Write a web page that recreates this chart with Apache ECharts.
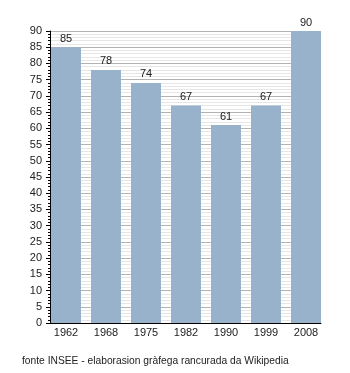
<!DOCTYPE html>
<html>
<head>
<meta charset="utf-8">
<script src="https://cdn.jsdelivr.net/npm/echarts@6/dist/echarts.min.js"></script>
<style>
  html, body { margin: 0; padding: 0; background: #fff; }
  #chart { width: 350px; height: 373px; }
</style>
</head>
<body>
<div id="chart"></div>
<script>
// Population by census year
const years = ['1962', '1968', '1975', '1982', '1990', '1999', '2008'];
const population = [85, 78, 74, 67, 61, 67, 90];
const sourceNote = 'fonte INSEE - elaborasion gràfega rancurada da Wikipedia';

const chart = echarts.init(document.getElementById('chart'), null, { renderer: 'canvas' });
const font = 'Liberation Sans, Arial, sans-serif';

chart.setOption({
  animation: false,
  backgroundColor: '#ffffff',
  grid: [
    // frame grid: axes and gridlines
    { left: 50, right: 29, top: 31, bottom: 50 },
    // bar grid: slightly wider so bars sit flush with the frame edges
    { left: 46, width: 280, top: 31, bottom: 50 }
  ],
  xAxis: [
    {
      gridIndex: 0, type: 'category', data: years,
      axisLine: { lineStyle: { color: '#000', width: 1 } },
      axisTick: { show: false }, axisLabel: { show: false }
    },
    {
      gridIndex: 1, type: 'category', data: years,
      axisLine: { show: false }, axisTick: { show: false },
      axisLabel: { color: '#222', fontFamily: font, fontSize: 11, margin: 4 }
    }
  ],
  yAxis: [
    {
      gridIndex: 0, type: 'value', min: 0, max: 90, interval: 5,
      axisLine: { show: true, lineStyle: { color: '#000', width: 1 } },
      axisTick: { show: true, inside: false, length: 4, lineStyle: { color: '#000' } },
      minorTick: { show: true, splitNumber: 5, length: 2, lineStyle: { color: '#000' } },
      splitLine: { show: true, lineStyle: { color: '#b3b3b3', width: 1 } },
      minorSplitLine: { show: true, lineStyle: { color: '#e6e6e6', width: 1 } },
      axisLabel: { color: '#222', fontFamily: font, fontSize: 11, margin: 8 }
    },
    {
      gridIndex: 1, type: 'value', min: 0, max: 90, interval: 5, show: false,
      splitLine: { show: false }
    }
  ],
  series: [{
    type: 'bar',
    xAxisIndex: 1, yAxisIndex: 1,
    data: population,
    barWidth: 30,
    itemStyle: { color: '#98b2cb' },
    label: {
      show: true, position: 'top', distance: 3,
      color: '#222', fontFamily: font, fontSize: 11
    }
  }],
  graphic: [{
    type: 'text', left: 22, top: 356,
    style: { text: sourceNote, fill: '#222', font: '10.25px ' + font }
  }]
});
</script>
</body>
</html>
